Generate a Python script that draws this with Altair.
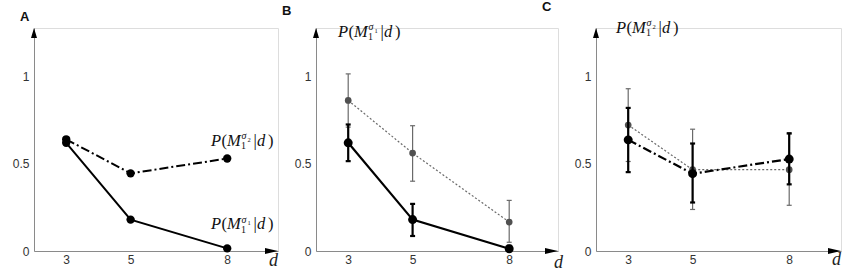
import altair as alt
import pandas as pd

# ---------------- data ----------------
d_vals = [3, 5, 8]
# Panel A
a_sigma1 = [0.62, 0.18, 0.015]
a_sigma2 = [0.64, 0.445, 0.53]
# Panel B  P(M1^sigma1 | d)
b_grey = [0.863, 0.561, 0.166]
b_grey_lo = [0.71, 0.40, 0.05]
b_grey_hi = [1.015, 0.718, 0.29]
b_black = [0.62, 0.18, 0.013]
b_black_lo = [0.515, 0.086, 0.0]
b_black_hi = [0.725, 0.27, 0.03]
# Panel C  P(M1^sigma2 | d)
c_grey = [0.722, 0.466, 0.466]
c_grey_lo = [0.513, 0.238, 0.262]
c_grey_hi = [0.93, 0.698, 0.67]
c_black = [0.637, 0.443, 0.527]
c_black_lo = [0.452, 0.278, 0.382]
c_black_hi = [0.82, 0.616, 0.675]

x_ticks = [3, 5, 8]
y_ticks = [0, 0.5, 1]
panel_labels = ["A", "B", "C"]

# ---------------- layout constants ----------------
PX_PER_D = 32.2
HEIGHT = 223
YMAX = 1.278
XMIN = 2

GREY = "#6a6a6a"
AXIS_GREY = "#8a8a8a"


def make_df(vals, lo=None, hi=None):
    df = pd.DataFrame({"d": d_vals, "p": vals})
    if lo is not None:
        df["lo"] = lo
        df["hi"] = hi
    return df


def panel(width, label, title_dx, dtitle_x, dtitle_y, layers_fn):
    xmax = XMIN + width / PX_PER_D
    xscale = alt.Scale(domain=[XMIN, xmax], nice=False, zero=False)
    yscale = alt.Scale(domain=[0, YMAX], nice=False, zero=False)
    xaxis = alt.Axis(values=x_ticks, format="~g", grid=False, ticks=False,
                     labelPadding=3, labelFontSize=12, labelFont="Liberation Sans",
                     labelColor="#333", domainColor=AXIS_GREY, domainWidth=1,
                     labelFlush=False, title="d", titleFont="Liberation Serif",
                     titleFontStyle="italic", titleFontWeight="normal", titleFontSize=18,
                     titleColor="#222", titleX=dtitle_x, titleY=dtitle_y,
                     titleAlign="center", titleBaseline="middle")
    yaxis = alt.Axis(values=y_ticks, format="~g", grid=False, ticks=False,
                     labelPadding=5, labelFontSize=12, labelFont="Liberation Sans",
                     labelColor="#333", domainColor=AXIS_GREY, domainWidth=1,
                     labelFlush=False, title=None)

    def X(field):
        return alt.X(field, type="quantitative", scale=xscale, axis=xaxis)

    def Y(field):
        return alt.Y(field, type="quantitative", scale=yscale, axis=yaxis)

    def Y2(field):
        return alt.Y2(field)

    # arrows at axis ends
    arrow_x = alt.Chart(pd.DataFrame({"d": [xmax], "p": [0.0]})).mark_point(
        shape="M0,0L-2,-0.45L-2,0.45Z", size=169, filled=True, color="black",
        opacity=1, strokeWidth=0).encode(x=X("d"), y=Y("p"))
    arrow_y = alt.Chart(pd.DataFrame({"d": [XMIN], "p": [YMAX]})).mark_point(
        shape="M0,0L-0.6,2L0.6,2Z", size=100, filled=True, color="black",
        opacity=1, strokeWidth=0).encode(x=X("d"), y=Y("p"))

    layers = layers_fn(X, Y, Y2, xmax)
    return alt.layer(*layers, arrow_x, arrow_y).properties(
        width=width, height=HEIGHT,
        title=alt.TitleParams(label, anchor="start", frame="group", dx=title_dx,
                              fontSize=13, fontWeight="bold", font="Liberation Sans",
                              color="#111", offset=4))


def math_label(X, Y, x, y, idx):
    base = pd.DataFrame({"d": [x], "p": [y]})
    pieces = [
        ("P", 0, 0, 16.5, "italic"),
        ("(", 10.5, 0, 16.5, "normal"),
        ("M", 16, 0, 16.5, "italic"),
        ("σ", 30.5, -6.5, 10, "italic"),
        (idx, 36.5, -4, 6.5, "normal"),
        ("1", 30, 3.5, 10, "normal"),
        ("|", 42.5, 0, 16.5, "normal"),
        ("d", 46, 0, 16.5, "italic"),
        (")", 57, 0, 16.5, "normal"),
    ]
    out = []
    for t, dx, dy, fs, st in pieces:
        out.append(alt.Chart(base).mark_text(
            text=t, dx=dx, dy=dy, fontSize=fs, fontStyle=st, font="Liberation Serif",
            align="left", baseline="alphabetic", color="#111").encode(x=X("d"), y=Y("p")))
    return out


def line(df, X, Y, color, width, dash=None):
    kw = dict(color=color, strokeWidth=width)
    if dash is not None:
        kw["strokeDash"] = dash
    return alt.Chart(df).mark_line(**kw).encode(x=X("d"), y=Y("p"))


def pts(df, X, Y, color, size):
    return alt.Chart(df).mark_point(filled=True, color=color, size=size, opacity=1).encode(
        x=X("d"), y=Y("p"))


def ebar(df, X, Y, Y2, color, width):
    r = alt.Chart(df).mark_rule(color=color, strokeWidth=width).encode(
        x=X("d"), y=Y("lo"), y2=Y2("hi"))
    t1 = alt.Chart(df).mark_tick(color=color, orient="horizontal", size=5,
                                 thickness=width, opacity=1).encode(x=X("d"), y=Y("lo"))
    t2 = alt.Chart(df).mark_tick(color=color, orient="horizontal", size=5,
                                 thickness=width, opacity=1).encode(x=X("d"), y=Y("hi"))
    return [r, t1, t2]


DASHDOT = [9, 3, 2, 3]


def layers_a(X, Y, Y2, xmax):
    s1 = make_df(a_sigma1)
    s2 = make_df(a_sigma2)
    return [
        line(s2, X, Y, "black", 2, DASHDOT),
        line(s1, X, Y, "black", 2),
        pts(s2, X, Y, "black", 70),
        pts(s1, X, Y, "black", 70),
        *math_label(X, Y, 7.5, 0.603, "2"),
        *math_label(X, Y, 7.5, 0.125, "1"),
    ]


def layers_b(X, Y, Y2, xmax):
    g = make_df(b_grey, b_grey_lo, b_grey_hi)
    k = make_df(b_black, b_black_lo, b_black_hi)
    return [
        line(g, X, Y, GREY, 1.2, [2, 2]),
        *ebar(g, X, Y, Y2, GREY, 1.2),
        pts(g, X, Y, "#505050", 45),
        line(k, X, Y, "black", 2.2),
        *ebar(k, X, Y, Y2, "black", 2.2),
        pts(k, X, Y, "black", 80),
        *math_label(X, Y, 2.68, 1.229, "1"),
    ]


def layers_c(X, Y, Y2, xmax):
    g = make_df(c_grey, c_grey_lo, c_grey_hi)
    k = make_df(c_black, c_black_lo, c_black_hi)
    return [
        line(g, X, Y, GREY, 1.2, [2, 2]),
        *ebar(g, X, Y, Y2, GREY, 1.2),
        pts(g, X, Y, "#505050", 45),
        line(k, X, Y, "black", 2.2, DASHDOT),
        *ebar(k, X, Y, Y2, "black", 2.2),
        pts(k, X, Y, "black", 80),
        *math_label(X, Y, 2.62, 1.25, "2"),
    ]


pa = panel(244, panel_labels[0], -14, 239, 9, layers_a)
pb = panel(242, panel_labels[1], -34, 242, 11, layers_b)
pc = panel(245, panel_labels[2], -54, 240, 8, layers_c)

chart = alt.hconcat(pa, pb, pc, spacing=38, bounds="flush").properties(
    padding={"left": 11, "top": 0, "right": 0, "bottom": 0}
).configure_view(stroke=None).configure(background="white")

chart.save("out.html", embed_options={"renderer": "svg", "actions": False})
